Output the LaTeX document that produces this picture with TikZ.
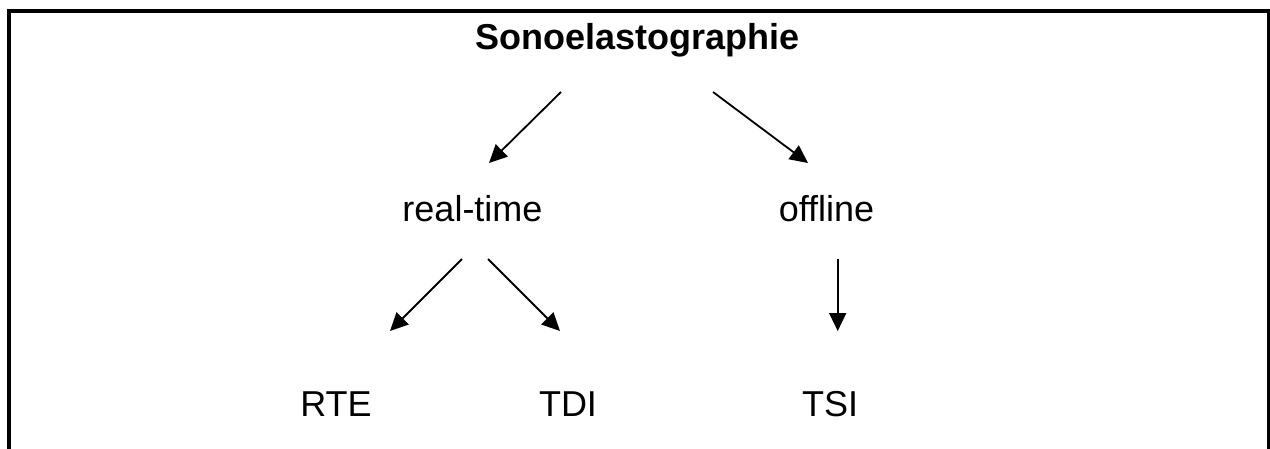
\documentclass[tikz,border=0pt]{standalone}
\usepackage{fontspec}
\setmainfont[Ligatures=NoCommon]{Liberation Sans}
\usetikzlibrary{arrows.meta}
\begin{document}
\begin{tikzpicture}[x=1pt,y=-1pt,
  lbl/.style={anchor=base,inner sep=0pt,font=\fontsize{36}{43}\selectfont},
  ttl/.style={anchor=base,inner sep=0pt,font=\fontsize{36}{43}\selectfont\bfseries},
  arr/.style={line width=1.8pt,-{Triangle[length=18pt,width=17pt]}},
  frame/.style={line width=4pt}]
\useasboundingbox (0,0) rectangle (1270,448);
\clip (0,0) rectangle (1270,448);
\draw[frame] (9.3,470) -- (9.3,11) -- (1268.5,11) -- (1268.5,470);
\node[ttl] (sono) at (637.5,49) {Sonoelastographie};
\node[lbl] (rt) at (472.5,221) {real-time};
\node[lbl] (off) at (826.5,221) {offline};
\node[lbl] (rte) at (336,416) {RTE};
\node[lbl] (tdi) at (568,416) {TDI};
\node[lbl] (tsi) at (830,416) {TSI};
\coordinate (a1) at (561,92);  \coordinate (b1) at (489,163);
\coordinate (a2) at (713,92);  \coordinate (b2) at (808,163);
\coordinate (a3) at (462,259); \coordinate (b3) at (390,331);
\coordinate (a4) at (488,259); \coordinate (b4) at (560,331);
\coordinate (a5) at (837.7,259); \coordinate (b5) at (837.7,331);
\draw[arr] (a1) -- (b1);
\draw[arr] (a2) -- (b2);
\draw[arr] (a3) -- (b3);
\draw[arr] (a4) -- (b4);
\draw[arr] (a5) -- (b5);
\end{tikzpicture}
\end{document}
